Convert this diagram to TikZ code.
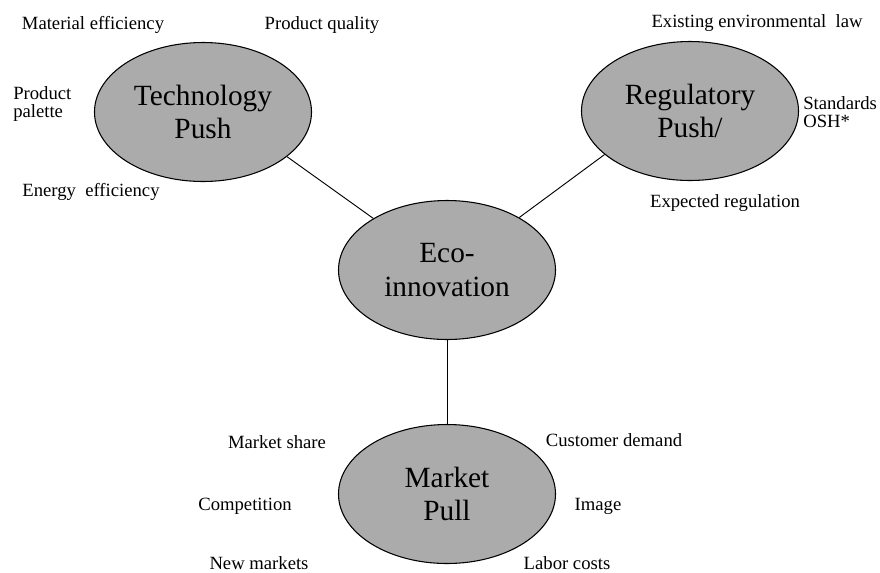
\documentclass[tikz,border=0pt]{standalone}
\usepackage{fontspec}
\setmainfont{Liberation Serif}
\usetikzlibrary{shapes.geometric}

\begin{document}
\begin{tikzpicture}[
		x=0.75pt, y=-0.75pt,
		driver/.style={ellipse, draw, line width=0.8pt, fill=black!33,
				minimum width=162.75pt, minimum height=104.25pt, inner sep=0pt,
				align=center, font=\fontsize{22}{25}\selectfont},
		factor/.style={inner sep=0pt, font=\fontsize{14}{13.5}\selectfont},
		link/.style={draw, line width=0.7pt}
	]
	\useasboundingbox (0,0) rectangle (880,572);

	% drivers
	\node[driver] (tech) at (203,112) {Technology\\Push};
	\node[driver] (reg) at (690,111) {Regulatory\\Push/};
	\node[driver] (eco) at (447,270) {Eco-\\innovation};
	\node[driver] (market) at (447,494) {Market\\Pull};

	\path[link] (tech.-28) -- (eco.145);
	\path[link] (reg.-153) -- (eco.36);
	\path[link] (eco) -- (market);

	% technology push
	\node[factor] (matEff) at (93,25) {Material efficiency};
	\node[factor] (prodQual) at (322,25) {Product quality};
	\node[factor, anchor=west, align=left] (prodPal) at (13,104) {Product\\palette};
	\node[factor] (energyEff) at (91,192) {Energy\ \ efficiency};

	% regulatory push
	\node[factor] (existLaw) at (757,23) {Existing environmental\ \ law};
	\node[factor, anchor=west, align=left] (osh) at (803,112) {Standards\\OSH*};
	\node[factor] (expReg) at (725,203) {Expected regulation};

	% market pull
	\node[factor] (share) at (277,442) {Market share};
	\node[factor] (demand) at (614,440) {Customer demand};
	\node[factor] (competition) at (245,506) {Competition};
	\node[factor] (image) at (598,506) {Image};
	\node[factor] (newMarkets) at (259,563) {New markets};
	\node[factor] (labor) at (567,563) {Labor costs};

\end{tikzpicture}
\end{document}
